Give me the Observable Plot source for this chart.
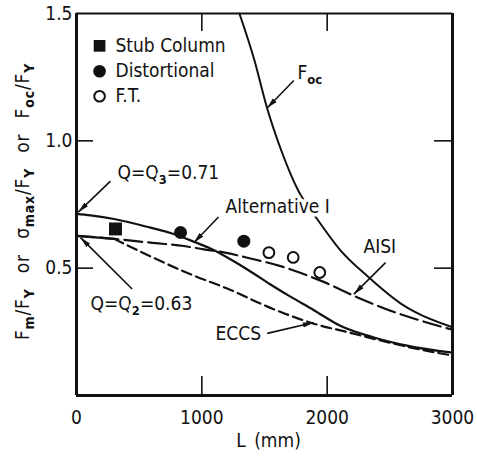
<!DOCTYPE html>
<html>
<head>
<meta charset="utf-8">
<script src="https://cdn.jsdelivr.net/npm/d3@7"></script>
<script src="https://cdn.jsdelivr.net/npm/@observablehq/plot@0.6"></script>
<style>
  html, body { margin: 0; padding: 0; background: #fff; }
</style>
</head>
<body>
<div id="chart"></div>
<script>
// ---------- data ----------
const altI = [[0,0.713],[112,0.707],[300,0.693],[590,0.659],[750,0.638],[936,0.604],[1069,0.577],[1255,0.527],[1388,0.487],[1548,0.436],[1700,0.39],[1891,0.336],[2100,0.275],[2374,0.228],[2637,0.196],[3000,0.168]];
const aisi = [[0,0.627],[300,0.615],[590,0.600],[856,0.587],[1016,0.574],[1163,0.563],[1388,0.538],[1628,0.508],[1947,0.451],[2266,0.38],[2505,0.333],[2745,0.294],[3000,0.258]];
const eccs = [[300,0.615],[617,0.54],[910,0.476],[1202,0.42],[1524,0.349],[1708,0.313],[1880,0.284],[2170,0.248],[2426,0.216],[2689,0.186],[3000,0.157]];
const foc = [[1300,1.5],[1415,1.324],[1521,1.128],[1628,0.97],[1771,0.803],[1920,0.693],[2106,0.57],[2322,0.468],[2585,0.362],[2700,0.328],[3000,0.268]];

const stubColumn = [[311,0.654]];
const distortional = [[830,0.640],[1335,0.606]];
const flexTorsional = [[1535,0.561],[1729,0.542],[1941,0.483]];

const xDomain = [0, 3000];
const yDomain = [0, 1.5];
const xTickLabels = [0, 1000, 2000, 3000];
const yTickLabels = [0.5, 1.0, 1.5];
const innerTicksX = [1000, 2000];
const innerTicksY = [0.5, 1.0];

const legendLabels = ["Stub Column", "Distortional", "F.T."];
const legendAt = {x: 184, textX: 311, y: [1.373, 1.273, 1.175]};

const annotations = [
  {text: "Q=Q_{3}=0.71", x: 327, y: 0.873},
  {text: "Q=Q_{2}=0.63", x: 112, y: 0.36},
  {text: "Alternative I", x: 1189, y: 0.742},
  {text: "AISI", x: 2290, y: 0.582},
  {text: "ECCS", x: 1109, y: 0.241},
  {text: "F_{oc}", x: 1763, y: 1.265}
];
const arrows = [
  {x1: 271, y1: 0.842, x2: 14, y2: 0.72},
  {x1: 444, y1: 0.418, x2: 32, y2: 0.62},
  {x1: 1133, y1: 0.701, x2: 936, y2: 0.60},
  {x1: 2466, y1: 0.522, x2: 2213, y2: 0.398},
  {x1: 1522, y1: 0.244, x2: 1893, y2: 0.287},
  {x1: 1734, y1: 1.237, x2: 1521, y2: 1.129}
];

const xLabel = "L\u2002(mm)";
const yLabel = "F_{m}/F_{Y} or \u03C3_{max}/F_{Y} or F_{oc}/F_{Y}";

// ---------- helpers ----------
const toXY = (a) => a.map(([x, y]) => ({x, y}));
const FONT = "'DejaVu Sans Condensed', 'DejaVu Sans', sans-serif";

function filledArrow(color, context) {
  const ns = "http://www.w3.org/2000/svg";
  const m = context.document.createElementNS(ns, "marker");
  m.setAttribute("viewBox", "-11 -3 11 6");
  m.setAttribute("markerWidth", 11);
  m.setAttribute("markerHeight", 6);
  m.setAttribute("markerUnits", "userSpaceOnUse");
  m.setAttribute("orient", "auto");
  m.setAttribute("refX", 0);
  m.setAttribute("refY", 0);
  const p = context.document.createElementNS(ns, "path");
  p.setAttribute("d", "M0,0L-11,-2.6L-11,2.6Z");
  p.setAttribute("fill", color);
  p.setAttribute("stroke", "none");
  m.appendChild(p);
  return m;
}

const ink = "#111";

const plot = Plot.plot({
  width: 477,
  height: 459,
  marginLeft: 76,
  marginRight: 25,
  marginTop: 13,
  marginBottom: 64,
  style: {fontFamily: FONT, fontSize: "19px", color: ink, background: "#fff"},
  x: {domain: xDomain},
  y: {domain: yDomain},
  marks: [
    // tick labels
    Plot.axisX({ticks: xTickLabels, tickSize: 0, tickPadding: 15, label: null, fontSize: 19, tickFormat: d3.format("d")}),
    Plot.axisY({ticks: yTickLabels, tickSize: 0, tickPadding: 4, label: null, fontSize: 19, tickFormat: d3.format(".1f")}),
    // inward ticks
    Plot.axisX({anchor: "bottom", ticks: innerTicksX, tickSize: -19, fill: "none", label: null, strokeWidth: 1.6}),
    Plot.axisX({anchor: "top", ticks: innerTicksX, tickSize: -17, fill: "none", label: null, strokeWidth: 1.6}),
    Plot.axisY({anchor: "left", ticks: innerTicksY, tickSize: -17, fill: "none", label: null, strokeWidth: 1.6}),
    Plot.axisY({anchor: "right", ticks: innerTicksY, tickSize: -19, fill: "none", label: null, strokeWidth: 1.6}),
    // curves
    Plot.line(toXY(foc), {x: "x", y: "y", curve: "monotone-x", stroke: ink, strokeWidth: 2}),
    Plot.line(toXY(eccs), {x: "x", y: "y", curve: "monotone-x", stroke: ink, strokeWidth: 2.2, strokeDasharray: "10,5"}),
    Plot.line(toXY(aisi), {x: "x", y: "y", curve: "monotone-x", stroke: ink, strokeWidth: 2.2, strokeDasharray: "18,6"}),
    Plot.line(toXY(aisi).filter(d => d.x <= 300), {x: "x", y: "y", curve: "monotone-x", stroke: ink, strokeWidth: 2.2}),
    Plot.line(toXY(altI), {x: "x", y: "y", curve: "monotone-x", stroke: ink, strokeWidth: 2.2}),
    // test points
    Plot.dot(toXY(stubColumn), {x: "x", y: "y", symbol: "square", r: 7.3, fill: ink}),
    Plot.dot(toXY(distortional), {x: "x", y: "y", symbol: "circle", r: 6.5, fill: ink}),
    Plot.dot(toXY(flexTorsional), {x: "x", y: "y", symbol: "circle", r: 5.4, fill: "white", stroke: ink, strokeWidth: 2}),
    // legend
    Plot.dot([0], {x: legendAt.x, y: legendAt.y[0], symbol: "square", r: 6.6, fill: ink}),
    Plot.dot([0], {x: legendAt.x, y: legendAt.y[1], symbol: "circle", r: 6.3, fill: ink}),
    Plot.dot([0], {x: legendAt.x, y: legendAt.y[2], symbol: "circle", r: 5.3, fill: "white", stroke: ink, strokeWidth: 2}),
    Plot.text(legendLabels, {x: legendAt.textX, y: (d, i) => legendAt.y[i], text: d => d, textAnchor: "start", fontSize: 19, fill: ink}),
    // annotations
    Plot.link(arrows, {x1: "x1", y1: "y1", x2: "x2", y2: "y2", stroke: ink, strokeWidth: 1.6, markerEnd: filledArrow}),
    Plot.text(annotations, {x: "x", y: "y", text: "text", textAnchor: "start", fontSize: 19, fill: ink, stroke: "white", strokeWidth: 7}),
    // axis titles
    Plot.text([xLabel], {frameAnchor: "bottom", dx: 4, dy: 51, text: d => d, fontSize: 19, fill: ink}),
    Plot.text([yLabel], {frameAnchor: "left", textAnchor: "middle", dx: -54, dy: -3, rotate: -90, text: d => d, fontSize: 19, fill: ink}),
    // frame
    Plot.ruleY([yDomain[0]], {stroke: ink, strokeWidth: 3}),
    Plot.ruleY([yDomain[1]], {stroke: ink, strokeWidth: 2.2}),
    Plot.ruleX(xDomain, {stroke: ink, strokeWidth: 3})
  ]
});

// turn "_{...}" into real subscripts
function subify(svg) {
  const ns = "http://www.w3.org/2000/svg";
  svg.querySelectorAll("text").forEach((t) => {
    const targets = t.querySelectorAll("tspan").length ? [...t.querySelectorAll("tspan")] : [t];
    for (const el of targets) {
      const s = el.textContent;
      if (!s.includes("_{")) continue;
      const isYLabel = s.includes(" or ");
      if (isYLabel) { t.setAttribute("word-spacing", "9"); t.setAttribute("letter-spacing", "0.8"); }
      el.textContent = "";
      const parts = s.split(/(_\{[^}]*\})/).filter(Boolean);
      let shifted = false;
      for (const p of parts) {
        const ts = document.createElementNS(ns, "tspan");
        if (p.startsWith("_{")) {
          ts.textContent = p.slice(2, -1);
          ts.setAttribute("font-size", isYLabel ? "14" : "13");
          ts.setAttribute("font-weight", "bold");
          if (!shifted) { ts.setAttribute("dy", "5"); shifted = true; }
        } else {
          ts.textContent = p;
          if (shifted) { ts.setAttribute("dy", "-5"); shifted = false; }
        }
        el.appendChild(ts);
      }
    }
  });
}
subify(plot);
document.getElementById("chart").appendChild(plot);
</script>
</body>
</html>
